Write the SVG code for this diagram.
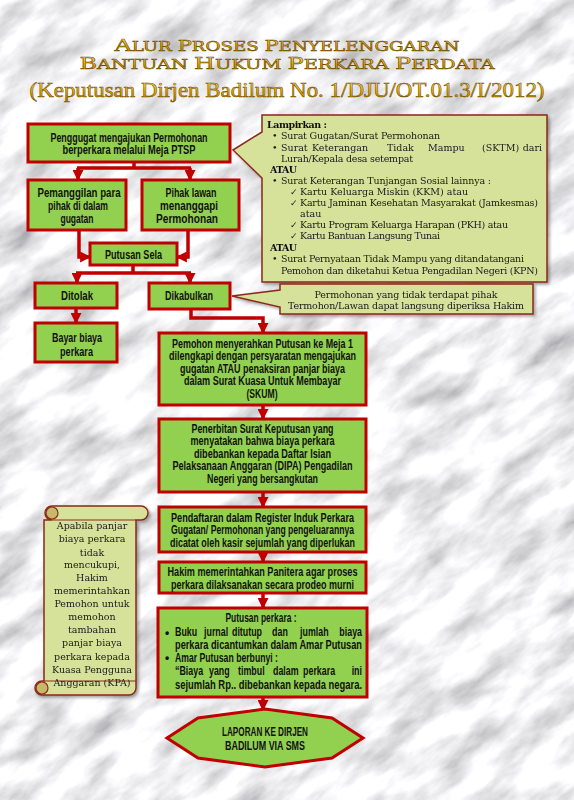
<svg xmlns="http://www.w3.org/2000/svg" width="574" height="800" viewBox="0 0 574 800">
<defs>
<style>
.box{fill:#92D050;stroke:#C00000;stroke-width:3}
.bt{font-family:"Liberation Sans",Arial,sans-serif;font-weight:bold;font-size:12px;fill:#111;text-anchor:middle}
.bl{font-family:"Liberation Sans",Arial,sans-serif;font-weight:bold;font-size:12px;fill:#111}
.co{fill:#D6E29A;stroke:#8B2A1A;stroke-width:1.5}
.ct{font-family:"DejaVu Serif","Liberation Serif",serif;font-size:9.5px;fill:#1a1a1a}
.ctb{font-family:"DejaVu Serif","Liberation Serif",serif;font-size:9.5px;font-weight:bold;fill:#111}
.ck{font-family:"DejaVu Sans",sans-serif;font-size:9px;fill:#222}
.st{font-family:"DejaVu Serif","Liberation Serif",serif;font-size:9.5px;fill:#1a1a1a;text-anchor:middle}
.title{font-family:"DejaVu Serif","Liberation Serif",serif;fill:url(#gold);stroke:#6b4a00;stroke-width:0.5;text-anchor:middle}
.cn{fill:none;stroke:#C00000;stroke-width:3.5;marker-end:url(#ah)}
.cl{fill:none;stroke:#C00000;stroke-width:3.5}
</style>
<marker id="ah" markerUnits="userSpaceOnUse" markerWidth="11" markerHeight="11" viewBox="0 0 10 10" refX="9" refY="5" orient="auto">
<path d="M0,0 L10,5 L0,10 Z" fill="#C00000"/>
</marker>
<linearGradient id="gold" x1="0" y1="0" x2="0" y2="1">
<stop offset="0" stop-color="#FFE680"/>
<stop offset="0.5" stop-color="#EBB000"/>
<stop offset="1" stop-color="#A86F00"/>
</linearGradient>
<filter id="marble" x="0" y="0" width="1" height="1">
<feTurbulence type="fractalNoise" baseFrequency="0.016 0.04" numOctaves="5" seed="11"/>
<feColorMatrix type="matrix" values="1.1 0 0 0 0.33  1.1 0 0 0 0.33  1.1 0 0 0 0.35  0 0 0 0 1"/>
</filter>
<filter id="sh" x="-10%" y="-10%" width="130%" height="130%">
<feDropShadow dx="2" dy="2" stdDeviation="1.5" flood-color="#000" flood-opacity="0.35"/>
</filter>
</defs>

<g id="background">
<rect width="574" height="800" fill="#dedede"/>
<g transform="rotate(-35 287 400)"><rect x="-350" y="-300" width="1300" height="1400" filter="url(#marble)"/></g>
</g>

<g id="title">
<text class="title" x="287" y="51" font-size="13" textLength="345" lengthAdjust="spacingAndGlyphs"><tspan font-size="17">A</tspan>LUR <tspan font-size="15">P</tspan>ROSES <tspan font-size="15">P</tspan>ENYELENGGARAN</text>
<text class="title" x="287" y="69" font-size="13" textLength="415" lengthAdjust="spacingAndGlyphs"><tspan font-size="16">B</tspan>ANTUAN <tspan font-size="16">H</tspan>UKUM <tspan font-size="16">P</tspan>ERKARA <tspan font-size="16">P</tspan>ERDATA</text>
<text class="title" x="287" y="97" font-size="20" style="font-family:'Liberation Serif',serif" textLength="515" lengthAdjust="spacingAndGlyphs">(Keputusan Dirjen Badilum No. 1/DJU/OT.01.3/I/2012)</text>
</g>

<g id="connectors">
<path class="cl" d="M134,162 V168 M77,168 H191"/>
<path class="cn" d="M78,168 V180"/>
<path class="cn" d="M190,168 V180"/>
<path class="cn" d="M79,230 V257 H90"/>
<path class="cn" d="M188,230 V257 H177"/>
<path class="cl" d="M133,265 V273 M76,273 H191"/>
<path class="cn" d="M77,273 V283"/>
<path class="cn" d="M190,273 V283"/>
<path class="cn" d="M76,308 V323"/>
<path class="cn" d="M191,309 V318 H263 V333"/>
<path class="cn" d="M263,405 V419"/>
<path class="cn" d="M263,492 V507"/>
<path class="cn" d="M263,552 V562"/>
<path class="cn" d="M263,593 V608"/>
<path class="cn" d="M263,697 V710"/>
</g>

<g id="n-lampirkan" filter="url(#sh)">
<path class="co" d="M262,115 H547 V282 H262 V178 L233,150 L262,132 Z"/>
<text class="ctb" x="267" y="128" textLength="60">Lampirkan :</text>
<text class="ct" x="272" y="139">•</text>
<text class="ct" x="281" y="139" textLength="159">Surat Gugatan/Surat Permohonan</text>
<text class="ct" x="272" y="151">•</text>
<text class="ct" y="151" font-size="9"><tspan x="281">Surat</tspan><tspan x="312">Keterangan</tspan><tspan x="387">Tidak</tspan><tspan x="428">Mampu</tspan><tspan x="482">(SKTM)</tspan><tspan x="542" text-anchor="end">dari</tspan></text>
<text class="ct" x="281" y="162" textLength="132">Lurah/Kepala desa setempat</text>
<text class="ctb" x="270" y="173" textLength="27">ATAU</text>
<text class="ct" x="272" y="184">•</text>
<text class="ct" x="281" y="184" textLength="210">Surat Keterangan Tunjangan Sosial lainnya :</text>
<text class="ck" x="290" y="195">✓</text>
<text class="ct" x="300" y="195" textLength="168">Kartu Keluarga Miskin (KKM) atau</text>
<text class="ck" x="290" y="206">✓</text>
<text class="ct" x="300" y="206" textLength="238">Kartu Jaminan Kesehatan Masyarakat (Jamkesmas)</text>
<text class="ct" x="300" y="217">atau</text>
<text class="ck" x="290" y="228">✓</text>
<text class="ct" x="300" y="228" textLength="208">Kartu Program Keluarga Harapan (PKH) atau</text>
<text class="ck" x="290" y="239">✓</text>
<text class="ct" x="300" y="239" textLength="140">Kartu Bantuan Langsung Tunai</text>
<text class="ctb" x="270" y="251" textLength="27">ATAU</text>
<text class="ct" x="272" y="262">•</text>
<text class="ct" x="281" y="262" textLength="243">Surat Pernyataan Tidak Mampu yang ditandatangani</text>
<text class="ct" x="281" y="274" textLength="257">Pemohon dan diketahui Ketua Pengadilan Negeri (KPN)</text>
</g>

<g id="n-termohon" filter="url(#sh)">
<path class="co" d="M280,284 H533 V314 H280 V307 L232,296 L280,290 Z"/>
<text class="ct" x="406" y="298" text-anchor="middle" textLength="183">Permohonan yang tidak terdapat pihak</text>
<text class="ct" x="406" y="309" text-anchor="middle" textLength="236">Termohon/Lawan dapat langsung diperiksa Hakim</text>
</g>

<g id="n-scroll" filter="url(#sh)">
<path class="co" d="M52,506 H141 A7,7 0 0 1 141,520 H136 V688 A7,7 0 0 1 129,695 H42 A7,7 0 0 1 42,681 H44 V520 H52 A7,7 0 0 1 52,506 Z"/>
<path d="M52,520 H136 M44,681 H136" fill="none" stroke="#8B2A1A" stroke-width="1.2"/>
<circle cx="52" cy="513" r="6" fill="#C8B86A" stroke="#8B2A1A" stroke-width="1.2"/>
<circle cx="42" cy="688" r="6" fill="#C8B86A" stroke="#8B2A1A" stroke-width="1.2"/>
<text class="st" x="92" y="529">Apabila panjar</text>
<text class="st" x="92" y="542">biaya perkara</text>
<text class="st" x="92" y="556">tidak</text>
<text class="st" x="92" y="568">mencukupi,</text>
<text class="st" x="92" y="581">Hakim</text>
<text class="st" x="92" y="594">memerintahkan</text>
<text class="st" x="92" y="607">Pemohon untuk</text>
<text class="st" x="92" y="620">memohon</text>
<text class="st" x="92" y="633">tambahan</text>
<text class="st" x="92" y="646">panjar biaya</text>
<text class="st" x="92" y="660">perkara kepada</text>
<text class="st" x="92" y="673">Kuasa Pengguna</text>
<text class="st" x="92" y="686">Anggaran (KPA)</text>
</g>

<g id="n-penggugat">
<rect class="box" x="28" y="124" width="202" height="38"/>
<text class="bt" x="129" y="141.5" textLength="157" lengthAdjust="spacingAndGlyphs">Penggugat mengajukan Permohonan</text>
<text class="bt" x="129" y="154" textLength="133" lengthAdjust="spacingAndGlyphs">berperkara melalui Meja PTSP</text>
</g>

<g id="n-pemanggilan">
<rect class="box" x="28" y="180" width="98" height="50"/>
<text class="bt" x="79" y="196.5" textLength="83" lengthAdjust="spacingAndGlyphs">Pemanggilan para</text>
<text class="bt" x="78" y="209.5" textLength="60" lengthAdjust="spacingAndGlyphs">pihak di dalam</text>
<text class="bt" x="77" y="222.5" textLength="33" lengthAdjust="spacingAndGlyphs">gugatan</text>
</g>

<g id="n-pihaklawan">
<rect class="box" x="142" y="180" width="97" height="50"/>
<text class="bt" x="191" y="196.5" textLength="51" lengthAdjust="spacingAndGlyphs">Pihak lawan</text>
<text class="bt" x="189" y="209.5" textLength="58" lengthAdjust="spacingAndGlyphs">menanggapi</text>
<text class="bt" x="187" y="222.5" textLength="62" lengthAdjust="spacingAndGlyphs">Permohonan</text>
</g>

<g id="n-putusansela">
<rect class="box" x="90" y="243" width="87" height="22"/>
<text class="bt" x="133.5" y="258.5" textLength="57" lengthAdjust="spacingAndGlyphs">Putusan Sela</text>
</g>

<g id="n-ditolak">
<rect class="box" x="35" y="283" width="82" height="25"/>
<text class="bt" x="77" y="299.5" textLength="32" lengthAdjust="spacingAndGlyphs">Ditolak</text>
</g>

<g id="n-dikabulkan">
<rect class="box" x="149" y="283" width="81" height="26"/>
<text class="bt" x="189" y="299.5" textLength="48" lengthAdjust="spacingAndGlyphs">Dikabulkan</text>
</g>

<g id="n-bayar">
<rect class="box" x="35" y="323" width="82" height="39"/>
<text class="bt" x="77" y="341.5" textLength="50" lengthAdjust="spacingAndGlyphs">Bayar biaya</text>
<text class="bt" x="76.5" y="355.5" textLength="33" lengthAdjust="spacingAndGlyphs">perkara</text>
</g>

<g id="n-pemohon">
<rect class="box" x="159" y="333" width="207" height="72"/>
<text class="bt" x="262.5" y="347.5" textLength="181" lengthAdjust="spacingAndGlyphs">Pemohon menyerahkan Putusan ke Meja 1</text>
<text class="bt" x="262.5" y="360" textLength="187" lengthAdjust="spacingAndGlyphs">dilengkapi dengan persyaratan mengajukan</text>
<text class="bt" x="262.5" y="372.5" textLength="165" lengthAdjust="spacingAndGlyphs">gugatan ATAU penaksiran panjar biaya</text>
<text class="bt" x="262.5" y="385" textLength="157" lengthAdjust="spacingAndGlyphs">dalam Surat Kuasa Untuk Membayar</text>
<text class="bt" x="262" y="397.5" textLength="31" lengthAdjust="spacingAndGlyphs">(SKUM)</text>
</g>

<g id="n-penerbitan">
<rect class="box" x="159" y="419" width="207" height="73"/>
<text class="bt" x="262.5" y="432.5" textLength="142" lengthAdjust="spacingAndGlyphs">Penerbitan Surat Keputusan yang</text>
<text class="bt" x="262.5" y="445" textLength="144" lengthAdjust="spacingAndGlyphs">menyatakan bahwa biaya perkara</text>
<text class="bt" x="262.5" y="457.5" textLength="137" lengthAdjust="spacingAndGlyphs">dibebankan kepada Daftar Isian</text>
<text class="bt" x="262.5" y="470" textLength="180" lengthAdjust="spacingAndGlyphs">Pelaksanaan Anggaran (DIPA) Pengadilan</text>
<text class="bt" x="262.5" y="482.5" textLength="111" lengthAdjust="spacingAndGlyphs">Negeri yang bersangkutan</text>
</g>

<g id="n-pendaftaran">
<rect class="box" x="159" y="507" width="207" height="45"/>
<text class="bt" x="262.5" y="521.5" textLength="183" lengthAdjust="spacingAndGlyphs">Pendaftaran dalam Register Induk Perkara</text>
<text class="bt" x="262.5" y="534" textLength="183" lengthAdjust="spacingAndGlyphs">Gugatan/ Permohonan yang pengeluarannya</text>
<text class="bt" x="262.5" y="546.5" textLength="185" lengthAdjust="spacingAndGlyphs">dicatat oleh kasir sejumlah yang diperlukan</text>
</g>

<g id="n-hakim">
<rect class="box" x="159" y="562" width="207" height="31"/>
<text class="bt" x="262.5" y="576" textLength="190" lengthAdjust="spacingAndGlyphs">Hakim memerintahkan Panitera agar proses</text>
<text class="bt" x="262.5" y="589" textLength="183" lengthAdjust="spacingAndGlyphs">perkara dilaksanakan secara prodeo murni</text>
</g>

<g id="n-putusanperkara">
<rect class="box" x="158" y="608" width="209" height="89"/>
<text class="bt" x="261" y="621.5" textLength="71" lengthAdjust="spacingAndGlyphs">Putusan perkara :</text>
<text class="bl" x="165" y="636.5">•</text>
<text class="bl" y="636.5" transform="scale(0.74 1)"><tspan x="236.5">Buku</tspan><tspan x="275.7">jurnal</tspan><tspan x="313.5">ditutup</tspan><tspan x="367.6">dan</tspan><tspan x="405.4">jumlah</tspan><tspan x="489.2" text-anchor="end">biaya</tspan></text>
<text class="bl" x="175" y="649" textLength="187" lengthAdjust="spacingAndGlyphs">perkara dicantumkan dalam Amar Putusan</text>
<text class="bl" x="165" y="661.5">•</text>
<text class="bl" x="175" y="661.5" textLength="103" lengthAdjust="spacingAndGlyphs">Amar Putusan berbunyi :</text>
<text class="bl" y="675.5" transform="scale(0.74 1)"><tspan x="236.5">“Biaya</tspan><tspan x="282.4">yang</tspan><tspan x="321.6">timbul</tspan><tspan x="368.9">dalam</tspan><tspan x="409.5">perkara</tspan><tspan x="489.2" text-anchor="end">ini</tspan></text>
<text class="bl" x="175" y="688.5" textLength="187" lengthAdjust="spacingAndGlyphs">sejumlah Rp.. dibebankan kepada negara.</text>
</g>

<g id="n-laporan">
<path class="box" d="M167,738 L198,718 L265,709 L332,718 L363,738 L332,758 L265,767 L198,758 Z"/>
<text class="bt" x="265" y="735.5" textLength="86" lengthAdjust="spacingAndGlyphs">LAPORAN KE DIRJEN</text>
<text class="bt" x="265" y="749.5" textLength="80" lengthAdjust="spacingAndGlyphs">BADILUM VIA SMS</text>
</g>
</svg>
